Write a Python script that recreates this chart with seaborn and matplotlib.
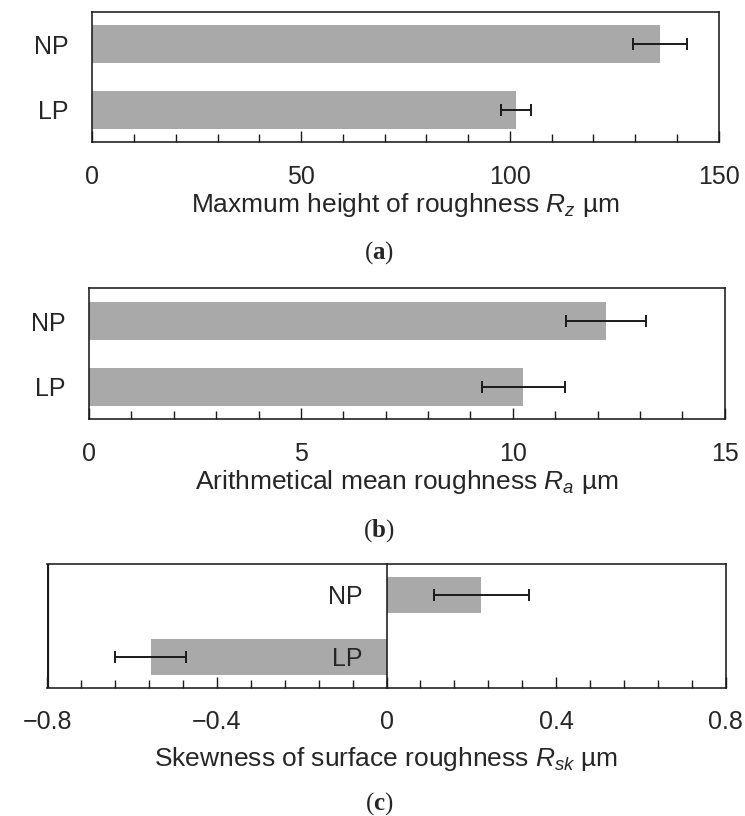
import numpy as np
import pandas as pd
import matplotlib
matplotlib.use("Agg")
import matplotlib.pyplot as plt
from matplotlib.ticker import MultipleLocator, FuncFormatter
import seaborn as sns

# Surface roughness of the two samples (mean and standard deviation)
samples = ["NP", "LP"]
rz_mean = [136.0, 101.5]
rz_sd = [6.4, 3.7]
ra_mean = [12.2, 10.25]
ra_sd = [0.935, 0.98]
rsk_mean = [0.224, -0.556]
rsk_sd = [0.112, 0.084]

panel_tags = ["a", "b", "c"]
xlabels = [
    r"Maxmum height of roughness $R_z$ µm",
    r"Arithmetical mean roughness $R_a$ µm",
    r"Skewness of surface roughness $R_{sk}$ µm",
]
xlims = [(0, 150), (0, 15), (-0.8, 0.8)]
major_steps = [50, 5, 0.4]
minor_steps = [10, 1, 0.08]

sns.set_style("ticks")
plt.rcParams["font.family"] = ["Liberation Sans", "DejaVu Sans"]
plt.rcParams["mathtext.fontset"] = "custom"
plt.rcParams["mathtext.rm"] = "Liberation Sans"
plt.rcParams["mathtext.it"] = "Liberation Sans:italic"
plt.rcParams["mathtext.bf"] = "Liberation Serif:bold"
plt.rcParams["axes.unicode_minus"] = True

BAR = "#a9a9a9"
INK = "#1a1a1a"
FS = 18
FS_LABEL = 19
LW = 1.15

fig = plt.figure(figsize=(7.45, 8.16), dpi=100)
W, H = 745.0, 816.0

# Axes boxes in pixel units: left, top, right, bottom
boxes = [
    (92.3, 11.7, 718.5, 142.3),
    (89.0, 288.3, 724.7, 419.3),
    (47.3, 564.0, 725.7, 687.5),
]
tag_y = [253, 531, 804]
xlabel_pads = [2, 2, 8]

datasets = [(rz_mean, rz_sd), (ra_mean, ra_sd), (rsk_mean, rsk_sd)]


def signed_fmt(v, _):
    if abs(v) < 1e-9:
        return "0"
    return f"{v:.1f}".replace("-", "\u2212")


for i, ((means, sds), (l, t, r, b)) in enumerate(zip(datasets, boxes)):
    ax = fig.add_axes([l / W, 1 - b / H, (r - l) / W, (b - t) / H])
    df = pd.DataFrame({"sample": samples, "value": means, "sd": sds})
    sns.barplot(data=df, x="value", y="sample", color=BAR, saturation=1,
                width=0.58, errorbar=None, ax=ax, linewidth=0)
    pos = np.arange(len(samples))
    ax.errorbar(df["value"], pos, xerr=df["sd"], fmt="none", ecolor=INK,
                elinewidth=1.4, capsize=4.5, capthick=1.4, zorder=3)

    ax.set_xlim(*xlims[i])
    ax.set_ylim(1.5, -0.5)
    ax.xaxis.set_major_locator(MultipleLocator(major_steps[i]))
    ax.xaxis.set_minor_locator(MultipleLocator(minor_steps[i]))
    if i == 2:
        ax.xaxis.set_major_formatter(FuncFormatter(signed_fmt))
    ax.tick_params(axis="x", which="major", direction="in", length=8, width=1.0,
                   color=INK, labelsize=FS, pad=16, top=False)
    ax.tick_params(axis="x", which="minor", direction="in", length=5.5, width=1.0,
                   color=INK, top=False)
    ax.tick_params(axis="y", length=0, labelsize=FS, pad=17)

    for s in ax.spines.values():
        s.set_visible(True)
        s.set_linewidth(LW)
        s.set_color(INK)

    if i == 2:
        # y labels sit beside the zero line, drawn over the bars;
        # the outer frame keeps its own left edge
        ax.set_axisbelow(False)
        ax.spines["left"].set_position(("data", 0))
        ax.axvline(xlims[i][0], color=INK, lw=LW * 2, clip_on=True)

    ax.set_ylabel("")
    ax.set_xlabel(xlabels[i], fontsize=FS_LABEL, labelpad=xlabel_pads[i])

    fig.text(379 / W, 1 - tag_y[i] / H, r"($\mathbf{%s}$)" % panel_tags[i],
             family="Liberation Serif", fontsize=18, ha="center", va="center")

fig.savefig("out.png", dpi=100)
